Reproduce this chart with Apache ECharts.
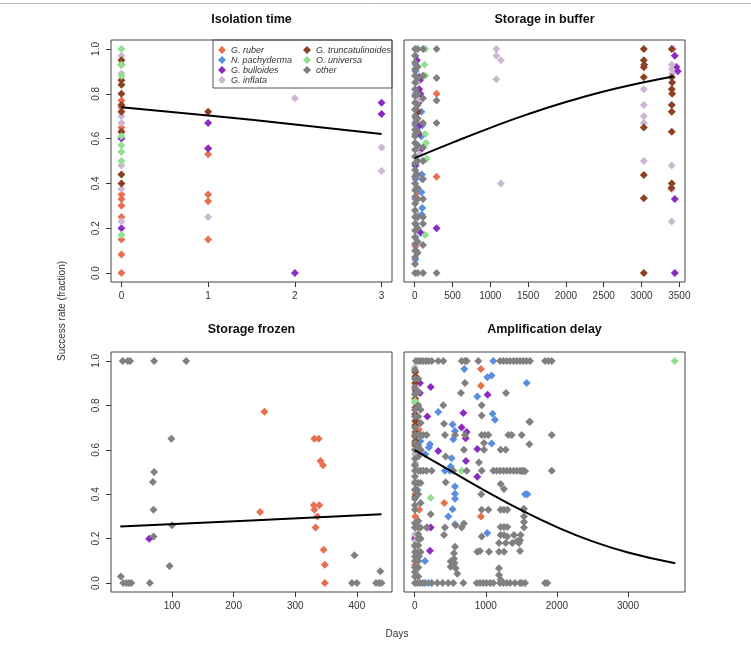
<!DOCTYPE html>
<html>
<head>
<meta charset="utf-8">
<script src="https://cdn.jsdelivr.net/npm/echarts@6/dist/echarts.min.js"></script>
<style>html,body{margin:0;padding:0;background:#fff}#c{width:751px;height:646px}</style>
</head>
<body>
<div id="c"></div>
<script>
// ---------- labels ----------
const species = ['G. ruber', 'N. pachyderma', 'G. bulloides', 'G. inflata', 'G. truncatulinoides', 'O. universa', 'other'];
const panelTitles = ['Isolation time', 'Storage in buffer', 'Storage frozen', 'Amplification delay'];
const yTicks = [0, 0.2, 0.4, 0.6, 0.8, 1.0];
const xTicksIso = [0, 1, 2, 3];
const xTicksBuf = [0, 500, 1000, 1500, 2000, 2500, 3000, 3500];
const xTicksFrz = [100, 200, 300, 400];
const xTicksAmp = [0, 1000, 2000, 3000];
const yAxisTitle = 'Success rate (fraction)';
const xAxisTitle = 'Days';

// ---------- Panel 1: Isolation time ----------
const isoRuber = [[0,0.77],[0,0.74],[0,0.65],[0,0.63],[0,0.35],[0,0.33],[0,0.30],[0,0.25],[0,0.15],[0,0.083],[0,0],[1,0.556],[1,0.53],[1,0.35],[1,0.32],[1,0.15]];
const isoPachy = [];
const isoBull = [[0,0.60],[0,0.20],[1,0.67],[1,0.556],[2,0],[3,0.76],[3,0.71]];
const isoInfl = [[0,0.97],[0,0.89],[0,0.70],[0,0.67],[0,0.48],[0,0.375],[0,0.23],[1,0.25],[2,0.78],[3,0.56],[3,0.455]];
const isoTrunc = [[0,0.95],[0,0.93],[0,0.86],[0,0.84],[0,0.80],[0,0.75],[0,0.72],[0,0.63],[0,0.44],[0,0.40],[1,0.72]];
const isoUniv = [[0,1.0],[0,0.93],[0,0.88],[0,0.61],[0,0.57],[0,0.54],[0,0.50],[0,0.17]];
const isoOther = [];
const isoFit = [[0,0.74],[1,0.703],[2,0.663],[3,0.62]];

// ---------- Panel 2: Storage in buffer ----------
const bufRuber = [[20,0.73],[10,0.62],[30,0.37],[40,0.36],[10,0.12],[290,0.80],[290,0.43]];
const bufPachy = [[10,0.97],[15,0.93],[10,0.90],[12,0.80],[20,0.76],[10,0.73],[25,0.71],[15,0.69],[10,0.66],[25,0.64],[12,0.62],[10,0.48],[20,0.44],[12,0.42],[25,0.38],[10,0.33],[15,0.22],[10,0.16],[20,0.10],[10,0.06],
  [90,0.72],[100,0.66],[90,0.61],[95,0.44],[100,0.42],[90,0.36],[100,0.29],[95,0.26]];
const bufBull = [[30,0.95],[60,0.875],[70,0.86],[60,0.82],[75,0.80],[50,0.76],[70,0.66],[60,0.62],[80,0.55],[10,0.48],[80,0.18],[290,0.20],
  [3440,0.97],[3460,0.92],[3480,0.90],[3440,0.33],[3440,0]];
const bufInfl = [[30,0.85],[50,0.77],[20,0.68],[40,0.56],[70,0.53],[20,0.27],[1080,1.0],[1080,0.97],[1140,0.95],[1080,0.865],[1140,0.40],
  [3030,0.82],[3030,0.75],[3030,0.70],[3030,0.67],[3030,0.50],
  [3420,1.0],[3400,0.93],[3400,0.91],[3410,0.89],[3400,0.48],[3400,0.374],[3400,0.23]];
const bufTrunc = [[40,0.72],
  [3030,1.0],[3030,0.95],[3035,0.93],[3030,0.918],[3030,0.874],[3030,0.649],[3030,0.438],[3030,0.334],[3030,0],
  [3400,1.0],[3400,0.874],[3405,0.85],[3400,0.82],[3405,0.80],[3400,0.75],[3400,0.72],[3400,0.631],[3400,0.40],[3395,0.38]];
const bufUniv = [[140,1.0],[130,0.93],[140,0.88],[140,0.62],[150,0.58],[160,0.51],[140,0.17]];
const bufOther = [
  [5,1.0],[5,0.97],[5,0.94],[5,0.91],[5,0.88],[5,0.85],[5,0.82],[5,0.79],[5,0.76],[5,0.73],[5,0.70],[5,0.67],[5,0.64],[5,0.61],[5,0.58],[5,0.55],[5,0.52],[5,0.49],[5,0.46],[5,0.43],[5,0.40],[5,0.37],[5,0.34],[5,0.31],[5,0.28],[5,0.25],[5,0.22],[5,0.19],[5,0.16],[5,0.13],[5,0.10],[5,0.07],[5,0.04],[5,0.0],
  [40,1.0],[40,0.92],[40,0.87],[40,0.80],[40,0.75],[40,0.69],[40,0.63],[40,0.57],[40,0.50],[40,0.44],[40,0.38],[40,0.33],[40,0.25],[40,0.20],[40,0.14],[40,0.09],[40,0.0],
  [110,1.0],[110,0.88],[110,0.78],[110,0.67],[110,0.56],[110,0.50],[110,0.42],[110,0.33],[110,0.25],[110,0.22],[110,0.125],[110,0.0],
  [290,1.0],[290,0.87],[290,0.77],[290,0.67],[290,0.0]];
const bufFit = [[0,0.513],[500,0.582],[1000,0.648],[1500,0.709],[2000,0.763],[2500,0.810],[3000,0.849],[3421,0.877]];

// ---------- Panel 3: Storage frozen ----------
const frzRuber = [[250,0.771],[331,0.65],[338,0.65],[341,0.55],[345,0.53],[243,0.32],[330,0.35],[339,0.35],[331,0.33],[336,0.30],[333,0.25],[346,0.15],[348,0.083],[348,0]];
const frzPachy = [];
const frzBull = [[63,0.20]];
const frzInfl = [];
const frzTrunc = [];
const frzUniv = [];
const frzOther = [[20,1],[28,1],[32,1],[71,1],[123,1],[99,0.65],[71,0.50],[69,0.455],[70,0.33],[100,0.26],[70,0.21],[396,0.125],[96,0.077],[438,0.053],[17,0.03],
  [21,0],[26,0],[30,0],[34,0],[64,0],[392,0],[400,0],[431,0],[436,0],[440,0]];
const frzFit = [[16,0.255],[228,0.282],[440,0.31]];

// ---------- Panel 4: Amplification delay ----------
const ampRuber = [[932,0.963],[932,0.888],[417,0.36],[932,0.30],[5,0.53],[10,0.40],[8,0.30],[10,0.21],[5,0.08],[60,0.69],[65,0.33]];
const ampPachy = [[698,0.964],[1021,0.926],[1082,0.934],[881,0.84],[1575,0.90],[1106,1.0],[332,0.77],[1096,0.762],[1129,0.735],[534,0.714],[567,0.685],[215,0.625],[543,0.647],[1082,0.628],
  [506,0.525],[520,0.562],[567,0.435],[567,0.402],[567,0.38],[1552,0.40],[1585,0.40],[473,0.30],[534,0.332],[567,0.265],[1021,0.226],[177,0.25],[145,0.10],[192,0],
  [60,0.67],[80,0.64],[200,0.61],[40,0.42],[40,0.40],[60,0.12],[150,0.58],[426,0.506],[496,0.506]];
const ampBull = [[225,0.882],[74,0.90],[74,0.856],[1026,0.848],[684,0.766],[660,0.70],[731,0.68],[717,0.652],[332,0.595],[881,0.603],[721,0.55],[881,0.479],[178,0.75],[225,0.25],[215,0.146],[4,0.2],[18,0.92],[18,0.86],[74,0.595]];
const ampInfl = [[4,0.97],[10,0.93],[4,0.89],[12,0.85],[4,0.81],[10,0.75],[4,0.73],[12,0.70],[4,0.58],[10,0.54],[4,0.46],[10,0.25],[4,0.22],[12,0.19],[4,0.16]];
const ampTrunc = [[8,0.95],[12,0.93],[8,0.90],[12,0.87],[8,0.83],[12,0.79],[8,0.76],[12,0.73],[8,0.71],[12,0.68],[8,0.66],[12,0.64],[8,0.62],[10,0.45],[8,0.42],[12,0.39]];
const ampUniv = [[3656,1.0],[660,0.506],[225,0.384],[5,0.82],[5,0.17]];
const ampOther = [
  [18,1],[51,1],[84,1],[121,1],[159,1],[192,1],[239,1],[332,1],[403,1],[661,1],[707,1],[731,1],[895,1],[1200,1],[1247,1],[1294,1],[1341,1],[1388,1],[1434,1],[1481,1],[1528,1],[1575,1],[1622,1],[1833,1],[1880,1],[1927,1],
  [4,0],[37,0],[75,0],[112,0],[145,0],[239,0],[318,0],[393,0],[473,0],[543,0],[684,0],[872,0],[919,0],[965,0],[1012,0],[1059,0],[1106,0],[1200,0],[1247,0],[1294,0],[1341,0],[1411,0],[1481,0],[1505,0],[1551,0],[1833,0],[1866,0],
  [4,0.506],[51,0.506],[84,0.506],[121,0.506],[168,0.506],[239,0.506],[543,0.506],[731,0.506],[942,0.506],[1106,0.506],[1153,0.506],[1200,0.506],[1247,0.506],[1294,0.506],[1341,0.506],[1388,0.506],[1434,0.506],[1481,0.506],[1528,0.506],[1927,0.506],
  [4,0.667],[51,0.667],[84,0.667],[121,0.667],[168,0.667],[426,0.667],[567,0.667],[707,0.667],[942,0.667],[989,0.667],[1036,0.667],[1317,0.667],[1364,0.667],[1505,0.667],[1927,0.667],
  [4,0.96],[4,0.92],[4,0.88],[4,0.85],[4,0.78],[4,0.75],[4,0.70],[4,0.63],[4,0.60],[4,0.56],[4,0.53],[4,0.48],[4,0.45],[4,0.42],[4,0.38],[4,0.35],[4,0.33],[4,0.27],[4,0.25],[4,0.17],[4,0.14],[4,0.12],[4,0.10],[4,0.07],[4,0.05],[4,0.03],
  [51,0.92],[51,0.86],[51,0.80],[51,0.75],[51,0.62],[51,0.57],[51,0.45],[51,0.40],[51,0.28],[51,0.25],[51,0.22],[51,0.20],[51,0.17],[51,0.14],[51,0.12],[51,0.10],[51,0.07],[51,0.03],
  [84,0.78],[84,0.72],[84,0.60],[84,0.45],[84,0.36],[84,0.25],[84,0.20],[84,0.14],
  [403,0.80],[707,0.90],[651,0.856],[1284,0.856],[942,0.754],[942,0.80],[1622,0.726],[412,0.717],[693,0.60],[975,0.63],[975,0.60],[1209,0.60],[1280,0.60],[436,0.57],[904,0.543],
  [436,0.454],[937,0.40],[1209,0.446],[1256,0.424],[225,0.31],[693,0.268],[412,0.216],[576,0.26],[881,0.141],[1045,0.141],[1186,0.141],[1256,0.141],
  [553,0.134],[553,0.11],[560,0.09],[576,0.067],[506,0.097],[506,0.074],[600,0.042],[1186,0.067],[1186,0.037],[1209,0.015],
  [1209,0.253],[1256,0.253],[1303,0.253],[1209,0.216],[1256,0.216],[1303,0.21],[1397,0.216],[1186,0.18],[1280,0.18],[1373,0.18],[1467,0.18],[1490,0.216],
  [1612,0.726],[1612,0.625],[1505,0.503],[1552,0.503],[1537,0.335],[1537,0.30],[1537,0.275],[1537,0.25],[1481,0.193],[1481,0.144],
  [1209,0.33],[1256,0.33],[1303,0.33],[942,0.33],[1036,0.33],[1528,0.33],[168,0.25],[426,0.25],[567,0.164],[660,0.25],[942,0.21],[1440,0.19],[919,0.144]];
const ampFit = [[0,0.598],[500,0.506],[1000,0.414],[1500,0.328],[2000,0.252],[2500,0.188],[3000,0.138],[3665,0.089]];

// ---------- build ----------
const colors = ['#E8704F', '#5A8EE0', '#8A2BC2', '#CDB8D3', '#8C4222', '#8FE08F', '#808080'];
const panels = [
  {data: [isoRuber, isoPachy, isoBull, isoInfl, isoTrunc, isoUniv, isoOther], fit: isoFit},
  {data: [bufRuber, bufPachy, bufBull, bufInfl, bufTrunc, bufUniv, bufOther], fit: bufFit},
  {data: [frzRuber, frzPachy, frzBull, frzInfl, frzTrunc, frzUniv, frzOther], fit: frzFit},
  {data: [ampRuber, ampPachy, ampBull, ampInfl, ampTrunc, ampUniv, ampOther], fit: ampFit}
];
const FONT = 'Liberation Sans, Arial, Helvetica, sans-serif';
const grids = [
  {left: 111, top: 40, width: 281, height: 242},
  {left: 404, top: 40, width: 281, height: 242},
  {left: 111, top: 352, width: 281, height: 240},
  {left: 404, top: 352, width: 281, height: 240}
].map(g => Object.assign(g, {show: true, borderColor: '#444', borderWidth: 1, backgroundColor: 'transparent', containLabel: false}));

const xRanges = [[-0.12, 3.12], [-141, 3575], [1, 457], [-150, 3801]];
const xTickSets = [xTicksIso, xTicksBuf, xTicksFrz, xTicksAmp];

const xAxes = xRanges.map((r, i) => ({
  type: 'value', gridIndex: i, min: r[0], max: r[1], position: 'bottom',
  axisLine: {show: false, onZero: false}, splitLine: {show: false},
  axisTick: {show: true, inside: false, length: 5, customValues: xTickSets[i], lineStyle: {color: '#333'}},
  axisLabel: {show: true, margin: 9, customValues: xTickSets[i], color: '#333', fontSize: 10, fontFamily: FONT,
    formatter: v => String(v)}
}));
const yAxes = [0, 1, 2, 3].map(i => ({
  type: 'value', gridIndex: i, min: -0.04, max: 1.04, position: 'left',
  axisLine: {show: false, onZero: false}, splitLine: {show: false},
  axisTick: {show: i % 2 === 0, inside: false, length: 5, customValues: yTicks, lineStyle: {color: '#333'}},
  axisLabel: {show: i % 2 === 0, rotate: 90, margin: 10, customValues: yTicks, color: '#333', fontSize: 10, fontFamily: FONT,
    formatter: v => v.toFixed(1)}
}));

const series = [];
panels.forEach((p, pi) => {
  p.data.forEach((d, si) => {
    series.push({
      type: 'scatter', name: species[si], xAxisIndex: pi, yAxisIndex: pi,
      data: d, symbol: 'diamond', symbolSize: 8,
      itemStyle: {color: colors[si], opacity: 1}, z: 2, silent: true
    });
  });
  series.push({
    type: 'line', name: 'fit' + pi, xAxisIndex: pi, yAxisIndex: pi,
    data: p.fit, smooth: true, symbol: 'none', lineStyle: {color: '#000', width: 2}, z: 4, silent: true
  });
});

const legendCommon = {
  orient: 'vertical', icon: 'diamond', itemWidth: 8, itemHeight: 8, itemGap: 0, padding: 0,
  textStyle: {fontSize: 9, fontStyle: 'italic', color: '#333', fontFamily: FONT, lineHeight: 10},
  selectedMode: false
};
const legends = [
  Object.assign({}, legendCommon, {left: 218, top: 45, data: species.slice(0, 4)}),
  Object.assign({}, legendCommon, {left: 303, top: 45, data: species.slice(4)})
];

const titlePos = [[251.5, 20], [544.5, 20], [251.5, 330], [544.5, 330]];
const graphic = titlePos.map((t, i) => ({
  type: 'text', x: t[0], y: t[1],
  style: {text: panelTitles[i], fontSize: 12.5, fontWeight: 'bold', fontFamily: FONT, fill: '#111', textAlign: 'center', textVerticalAlign: 'middle'}
}));
graphic.push({type: 'text', x: 62, y: 311, rotation: Math.PI / 2,
  style: {text: yAxisTitle, fontSize: 10, fontFamily: FONT, fill: '#333', textAlign: 'center', textVerticalAlign: 'middle'}});
graphic.push({type: 'text', x: 397, y: 634,
  style: {text: xAxisTitle, fontSize: 10, fontFamily: FONT, fill: '#333', textAlign: 'center', textVerticalAlign: 'middle'}});
graphic.push({type: 'rect', shape: {x: 213, y: 40, width: 179, height: 48}, style: {fill: 'none', stroke: '#555', lineWidth: 1}, z: 10});
graphic.push({type: 'line', shape: {x1: 0, y1: 3.5, x2: 751, y2: 3.5}, style: {stroke: '#bbb', lineWidth: 1}});

const chart = echarts.init(document.getElementById('c'), null, {renderer: 'canvas'});
chart.setOption({
  animation: false,
  backgroundColor: '#fff',
  grid: grids, xAxis: xAxes, yAxis: yAxes,
  legend: legends, series: series, graphic: graphic
});
</script>
</body>
</html>
